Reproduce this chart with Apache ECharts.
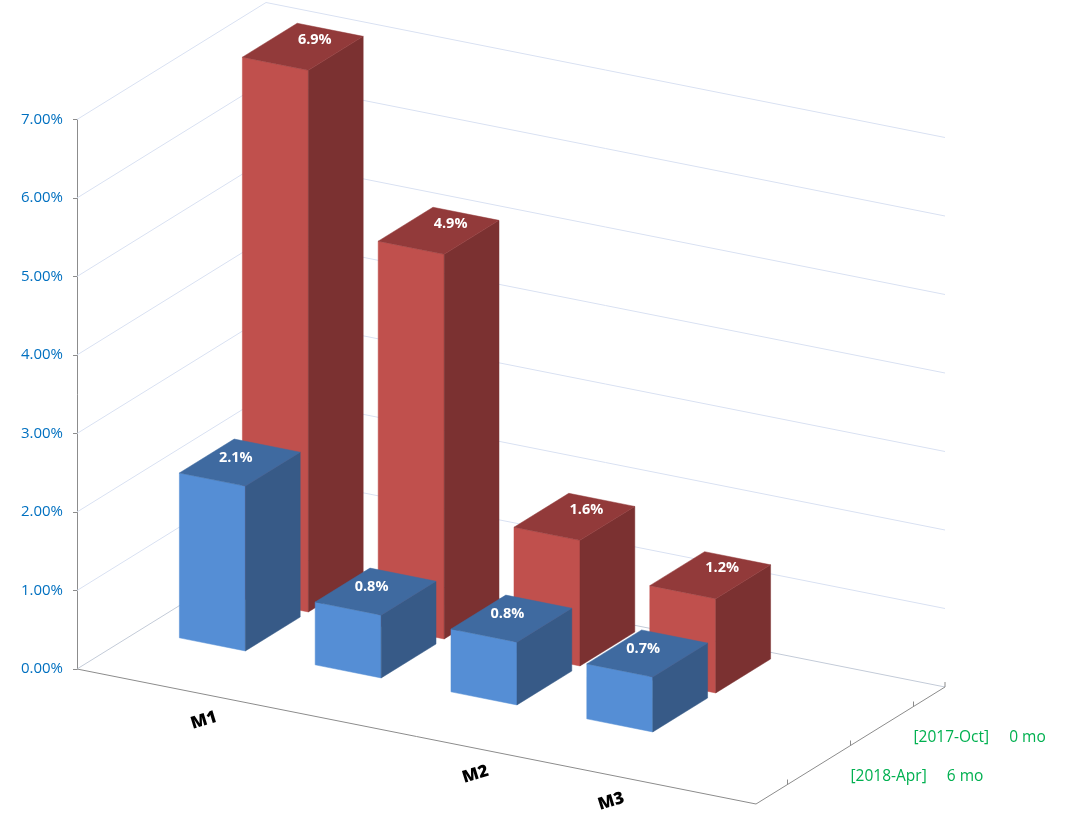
<!DOCTYPE html>
<html>
<head>
<meta charset="utf-8">
<script src="https://cdn.jsdelivr.net/npm/echarts@6/dist/echarts.min.js"></script>
<style>
html, body { margin: 0; padding: 0; background: #fff; }
#chart { width: 1088px; height: 821px; }
</style>
</head>
<body>
<div id="chart"></div>
<script>
// chart data
var categories = ['M1', '', 'M2', 'M3', ''];
var seriesNames = ['[2017-Oct]     0 mo', '[2018-Apr]     6 mo'];
var values0mo = [6.9, 4.9, 1.6, 1.2];
var values6mo = [2.1, 0.8, 0.8, 0.7];
var yTicks = [0, 1, 2, 3, 4, 5, 6, 7];
var depthTicks = [1 / 6, 0.5, 5 / 6, 1];

// fake 3d: front plane comes from the grid, then shear + depth offset
var FRONT_DROP = 135;        // how far the front edge falls over the grid width
var DEPTH = [189, -117];     // full floor depth in px
var BAR_X = [-0.21, 0.276];  // bar span inside a category band
var BAR_D = 0.29;            // bar depth (fraction of floor)

function pt(api, params, i, frac, v, d) {
    var c = api.coord([i, v]);
    var bw = api.size([1, 0])[0];
    var cs = params.coordSys;
    var x = c[0] + frac * bw;
    var y = c[1] + (x - cs.x) * FRONT_DROP / cs.width;
    return [x + d * DEPTH[0], y + d * DEPTH[1]];
}

function barSeries(name, values, slot, colors, labelShift) {
    return {
        type: 'custom',
        name: name,
        clip: false,
        z: 5,
        data: values.map(function (v, i) { return [i, v]; }),
        renderItem: function (params, api) {
            var i = api.value(0), v = api.value(1);
            var d0 = slot / 3, d1 = d0 + BAR_D;
            var xa = BAR_X[0], xb = BAR_X[1];
            var P = function (f, d, h) { return pt(api, params, i, f, h, d); };
            var front = [P(xa, d0, 0), P(xb, d0, 0), P(xb, d0, v), P(xa, d0, v)];
            var side = [P(xb, d0, 0), P(xb, d1, 0), P(xb, d1, v), P(xb, d0, v)];
            var top = [P(xa, d0, v), P(xb, d0, v), P(xb, d1, v), P(xa, d1, v)];
            var cx = (top[0][0] + top[1][0] + top[2][0] + top[3][0]) / 4;
            var cy = (top[0][1] + top[1][1] + top[2][1] + top[3][1]) / 4;
            return {
                type: 'group',
                children: [
                    { type: 'polygon', shape: { points: front }, style: { fill: colors[0], stroke: colors[0], lineWidth: 0.5 } },
                    { type: 'polygon', shape: { points: side }, style: { fill: colors[1], stroke: colors[1], lineWidth: 0.5 } },
                    { type: 'polygon', shape: { points: top }, style: { fill: colors[2], stroke: colors[2], lineWidth: 0.5 } },
                    { type: 'text', x: cx + labelShift[0], y: cy + labelShift[1], style: {
                        text: v.toFixed(1) + '%', fill: '#fff', align: 'center', verticalAlign: 'middle',
                        fontFamily: 'Open Sans', fontWeight: 'bold', fontSize: 14.5 } }
                ]
            };
        }
    };
}

var chart = echarts.init(document.getElementById('chart'));

var option = {
    animation: false,
    grid: { left: 77, right: 332, top: 119.5, bottom: 152 },
    xAxis: { type: 'category', data: categories, show: false },
    yAxis: {
        type: 'value', min: 0, max: 7, interval: 1,
        axisLine: { show: true, lineStyle: { color: '#8c8c8c', width: 1 } },
        axisTick: { show: true, length: 4, lineStyle: { color: '#8c8c8c' } },
        splitLine: { show: false },
        axisLabel: {
            color: '#0070C0', fontFamily: 'Open Sans', fontSize: 15, margin: 14,
            formatter: function (v) { return v.toFixed(2) + '%'; }
        }
    },
    series: [
        {
            // left + back wall gridlines
            type: 'custom', clip: false, z: 1,
            data: yTicks.map(function (t) { return [0, t]; }),
            renderItem: function (params, api) {
                var t = api.value(1);
                var last = categories.length - 1;
                var a = pt(api, params, 0, -0.5, t, 0);
                var b = pt(api, params, 0, -0.5, t, 1);
                var c = pt(api, params, last, 0.5, t, 1);
                return {
                    type: 'polyline',
                    shape: { points: [a, b, c] },
                    style: { stroke: t === 0 ? '#c3cbd8' : '#d9e1f2', lineWidth: 1, fill: null }
                };
            }
        },
        {
            // floor edges, depth axis ticks and labels
            type: 'custom', clip: false, z: 2,
            data: [[0, 0]],
            renderItem: function (params, api) {
                var last = categories.length - 1;
                var fl = pt(api, params, 0, -0.5, 0, 0);
                var fr = pt(api, params, last, 0.5, 0, 0);
                var br = pt(api, params, last, 0.5, 0, 1);
                var kids = [
                    { type: 'polyline', shape: { points: [fl, fr, br] }, style: { stroke: '#8c8c8c', lineWidth: 1, fill: null } }
                ];
                depthTicks.forEach(function (d) {
                    var p = pt(api, params, last, 0.5, 0, d);
                    kids.push({ type: 'line', shape: { x1: p[0], y1: p[1], x2: p[0], y2: p[1] - 5 }, style: { stroke: '#8c8c8c', lineWidth: 1 } });
                });
                // series names sit under the tick of their row
                seriesNames.forEach(function (name, k) {
                    var p = pt(api, params, last, 0.5, 0, (2 - k) / 3 + 1 / 6);
                    kids.push({ type: 'text', x: p[0], y: p[1] + 31, style: {
                        text: name, fill: '#00B050', align: 'left', verticalAlign: 'middle',
                        fontFamily: 'Open Sans', fontSize: 15.5 } });
                });
                return { type: 'group', children: kids };
            }
        },
        {
            // category labels under the front edge
            type: 'custom', clip: false, z: 2,
            data: categories.map(function (c, i) { return [i, 0]; }),
            renderItem: function (params, api) {
                var i = api.value(0);
                var p = pt(api, params, i, 0, 0, 0);
                return {
                    type: 'text', x: p[0] + 59, y: p[1] + 38, rotation: 0.3,
                    style: { text: categories[i], fill: '#000', align: 'center', verticalAlign: 'middle',
                        fontFamily: 'Open Sans', fontWeight: 800, fontSize: 17 }
                };
            }
        },
        barSeries(seriesNames[0], values0mo, 2, ['#C0504D', '#7B3131', '#923A3A'], [12, -7]),
        barSeries(seriesNames[1], values6mo, 1, ['#558ED5', '#375A87', '#3F6AA0'], [-4, -5])
    ]
};

chart.setOption(option);
window.onresize = function () { chart.resize(); };
</script>
</body>
</html>
